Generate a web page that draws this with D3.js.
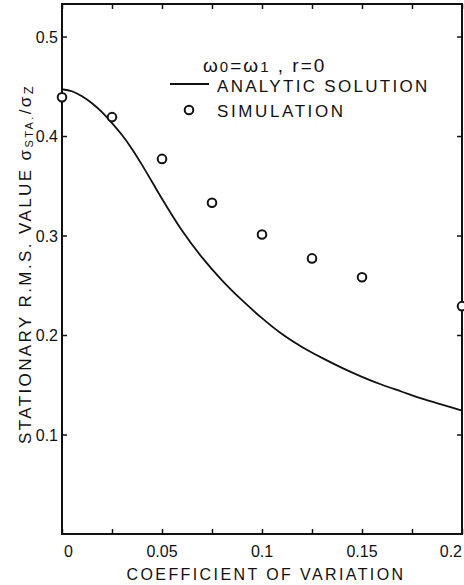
<!DOCTYPE html>
<html>
<head>
<meta charset="utf-8">
<script src="https://cdn.jsdelivr.net/npm/d3@7"></script>
<style>
    body { margin: 0; background: #fff; }
    text { font-family: "Liberation Sans", Arial, sans-serif; fill: #111; }
</style>
</head>
<body>
<div id="mainDiv"></div>
<script>
// analytic solution curve
var analyticX = [ 0, 0.005, 0.01, 0.015, 0.02, 0.025, 0.03, 0.035, 0.04, 0.045, 0.05, 0.06, 0.07, 0.08, 0.09,
    0.1, 0.11, 0.12, 0.13, 0.14, 0.15, 0.16, 0.17, 0.18, 0.19, 0.2 ];
var analyticY = [ 0.447, 0.445, 0.440, 0.433, 0.424, 0.413, 0.401, 0.387, 0.371, 0.354, 0.337, 0.305, 0.278, 0.255, 0.235,
    0.217, 0.201, 0.188, 0.177, 0.167, 0.158, 0.150, 0.143, 0.136, 0.130, 0.124 ];

// simulation points
var simX = [ 0, 0.025, 0.05, 0.075, 0.1, 0.125, 0.15, 0.2 ];
var simY = [ 0.439, 0.419, 0.377, 0.333, 0.301, 0.277, 0.258, 0.229 ];

var xTicks = [ 0, 0.05, 0.1, 0.15, 0.2 ];
var xTickLabels = [ '0', '0.05', '0.1', '0.15', '0.2' ];
var xMinorTicks = [ 0.025, 0.075, 0.125, 0.175 ];
var yTicks = [ 0.1, 0.2, 0.3, 0.4, 0.5 ];
var yTickLabels = [ '0.1', '0.2', '0.3', '0.4', '0.5' ];

var Chart = Chart || {};

Chart.main = function () {
    var _width = 464, _height = 585,
        _left = 62, _right = 462, _top = 4, _bottom = 534,
        _svg, _plot, x, y, line;

    _svg = d3.select( '#mainDiv' )
        .append( 'svg' )
        .attr( 'width', _width )
        .attr( 'height', _height );

    x = d3.scaleLinear().domain( [ 0, 0.2 ] ).range( [ _left, _right ] );
    y = d3.scaleLinear().domain( [ 0, 0.5327 ] ).range( [ _bottom, _top ] );

    _plot = _svg.append( 'g' );

    // bottom and top axes, ticks pointing inward
    _plot.append( 'g' )
        .attr( 'transform', 'translate(0,' + _bottom + ')' )
        .call( d3.axisTop( x ).tickValues( xTicks.concat( xMinorTicks ) ).tickSize( 5 ).tickFormat( '' ) );
    _plot.append( 'g' )
        .attr( 'transform', 'translate(0,' + _top + ')' )
        .call( d3.axisBottom( x ).tickValues( xTicks.concat( xMinorTicks ) ).tickSize( 5 ).tickFormat( '' ) );
    // left and right axes
    _plot.append( 'g' )
        .attr( 'transform', 'translate(' + _left + ',0)' )
        .call( d3.axisRight( y ).tickValues( yTicks ).tickSize( 5 ).tickFormat( '' ) );
    _plot.append( 'g' )
        .attr( 'transform', 'translate(' + _right + ',0)' )
        .call( d3.axisLeft( y ).tickValues( yTicks ).tickSize( 5 ).tickFormat( '' ) );

    _plot.selectAll( '.domain' ).remove();
    _plot.selectAll( '.tick line' ).attr( 'stroke', '#111' ).attr( 'stroke-width', 1.5 );

    // frame
    _plot.append( 'rect' )
        .attr( 'x', _left )
        .attr( 'y', _top )
        .attr( 'width', _right - _left )
        .attr( 'height', _bottom - _top )
        .attr( 'fill', 'none' )
        .attr( 'stroke', '#111' )
        .attr( 'stroke-width', 2 );

    // tick labels
    _svg.selectAll( '.xlab' )
        .data( xTicks )
        .enter()
        .append( 'text' )
        .attr( 'class', 'xlab' )
        .attr( 'x', function ( d, i ) { return i === 0 ? x( d ) + 2 : x( d ); } )
        .attr( 'y', 557 )
        .attr( 'text-anchor', function ( d, i ) { return i === 0 ? 'start' : ( i === xTicks.length - 1 ? 'end' : 'middle' ); } )
        .style( 'font-size', '16px' )
        .text( function ( d, i ) { return xTickLabels[ i ]; } );

    _svg.selectAll( '.ylab' )
        .data( yTicks )
        .enter()
        .append( 'text' )
        .attr( 'class', 'ylab' )
        .attr( 'x', _left - 4 )
        .attr( 'y', function ( d ) { return y( d ) + 6; } )
        .attr( 'text-anchor', 'end' )
        .style( 'font-size', '16px' )
        .text( function ( d, i ) { return yTickLabels[ i ]; } );

    // axis titles
    _svg.append( 'text' )
        .attr( 'x', 266 )
        .attr( 'y', 580 )
        .attr( 'text-anchor', 'middle' )
        .style( 'font-size', '16px' )
        .style( 'letter-spacing', '2.4px' )
        .text( 'COEFFICIENT OF VARIATION' );

    var yt = _svg.append( 'text' )
        .attr( 'transform', 'translate(31,264) rotate(-90)' )
        .attr( 'text-anchor', 'middle' )
        .style( 'font-size', '17px' )
        .style( 'letter-spacing', '2.4px' );
    yt.append( 'tspan' ).text( 'STATIONARY R.M.S. VALUE  σ' );
    yt.append( 'tspan' ).style( 'font-size', '11px' ).attr( 'dy', 2 ).text( 'STA.' );
    yt.append( 'tspan' ).attr( 'dy', -2 ).text( '/σ' );
    yt.append( 'tspan' ).style( 'font-size', '13px' ).attr( 'dy', 2 ).text( 'Z' );

    // analytic curve
    line = d3.line()
        .x( function ( d, i ) { return x( analyticX[ i ] ); } )
        .y( function ( d ) { return y( d ); } )
        .curve( d3.curveMonotoneX );

    _svg.append( 'path' )
        .datum( analyticY )
        .attr( 'd', line )
        .attr( 'fill', 'none' )
        .attr( 'stroke', '#111' )
        .attr( 'stroke-width', 1.8 );

    // simulation points
    _svg.selectAll( '.sim' )
        .data( simY )
        .enter()
        .append( 'circle' )
        .attr( 'class', 'sim' )
        .attr( 'cx', function ( d, i ) { return x( simX[ i ] ); } )
        .attr( 'cy', function ( d ) { return y( d ); } )
        .attr( 'r', 4.3 )
        .attr( 'fill', '#fff' )
        .attr( 'stroke', '#111' )
        .attr( 'stroke-width', 2 );

    // legend
    var title = _svg.append( 'text' )
        .attr( 'x', 203 )
        .attr( 'y', 72 )
        .style( 'font-size', '19px' )
        .style( 'letter-spacing', '2px' );
    title.append( 'tspan' ).text( 'ω' );
    title.append( 'tspan' ).style( 'font-size', '15px' ).text( '0' );
    title.append( 'tspan' ).text( '=ω' );
    title.append( 'tspan' ).style( 'font-size', '15px' ).text( '1' );
    title.append( 'tspan' ).text( ' , r=0' );

    _svg.append( 'line' )
        .attr( 'x1', 170 )
        .attr( 'x2', 209 )
        .attr( 'y1', 84 )
        .attr( 'y2', 84 )
        .attr( 'stroke', '#111' )
        .attr( 'stroke-width', 1.8 );
    _svg.append( 'text' )
        .attr( 'x', 217 )
        .attr( 'y', 92 )
        .style( 'font-size', '17px' )
        .style( 'letter-spacing', '2.3px' )
        .text( 'ANALYTIC SOLUTION' );

    _svg.append( 'circle' )
        .attr( 'cx', 189 )
        .attr( 'cy', 110 )
        .attr( 'r', 4.3 )
        .attr( 'fill', '#fff' )
        .attr( 'stroke', '#111' )
        .attr( 'stroke-width', 2 );
    _svg.append( 'text' )
        .attr( 'x', 217 )
        .attr( 'y', 117 )
        .style( 'font-size', '17px' )
        .style( 'letter-spacing', '2.6px' )
        .text( 'SIMULATION' );
}();
</script>
</body>
</html>
